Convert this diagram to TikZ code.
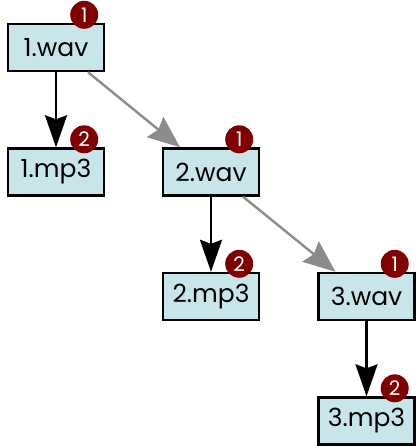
\documentclass[tikz,border=0pt]{standalone}
\usepackage{fontspec}
\setmainfont{Poppins}
\usetikzlibrary{arrows.meta}
\definecolor{boxfill}{HTML}{C8E6EA}
\definecolor{badgered}{HTML}{800000}
\definecolor{grayarrow}{HTML}{8C8C8C}
\tikzset{
  filebox/.style={draw=black, line width=2.4pt, fill=boxfill, minimum width=96pt, minimum height=47pt, inner sep=0pt, font=\fontsize{25}{25}\selectfont},
  badge/.style={circle, fill=badgered, minimum size=28pt, inner sep=0pt, text=white, font=\fontsize{20}{20}\selectfont},
  blackarrow/.style={draw=black, line width=2.4pt, -{Stealth[length=32pt,width=22pt,inset=4pt]}},
  grayarr/.style={draw=grayarrow, line width=2.4pt, -{Stealth[length=32pt,width=26pt,inset=4pt]}},
}
\begin{document}
\begin{tikzpicture}[x=1pt,y=-1pt]
\useasboundingbox (0,0) rectangle (416,446);
\node[filebox] (w1) at (56,47.5) {1.wav};
\node[filebox] (m1) at (56,172) {1.mp3};
\node[filebox] (w2) at (211,172) {2.wav};
\node[filebox] (m2) at (211,296.5) {2.mp3};
\node[filebox] (w3) at (366.5,296.5) {3.wav};
\node[filebox] (m3) at (366.5,421) {3.mp3};
\node[badge] (bw1) at ([xshift=-21pt,yshift=8pt]w1.north east) {1};
\node[badge] (bm1) at ([xshift=-21pt,yshift=8pt]m1.north east) {2};
\node[badge] (bw2) at ([xshift=-21pt,yshift=8pt]w2.north east) {1};
\node[badge] (bm2) at ([xshift=-21pt,yshift=8pt]m2.north east) {2};
\node[badge] (bw3) at ([xshift=-21pt,yshift=8pt]w3.north east) {1};
\node[badge] (bm3) at ([xshift=-21pt,yshift=8pt]m3.north east) {2};
\draw[blackarrow] (w1.south) -- (m1.north);
\draw[blackarrow] (w2.south) -- (m2.north);
\draw[blackarrow] (w3.south) -- (m3.north);
\draw[grayarr] ([xshift=32pt]w1.south) -- ([xshift=-31pt]w2.north);
\draw[grayarr] ([xshift=32pt]w2.south) -- ([xshift=-31pt]w3.north);
\end{tikzpicture}
\end{document}
